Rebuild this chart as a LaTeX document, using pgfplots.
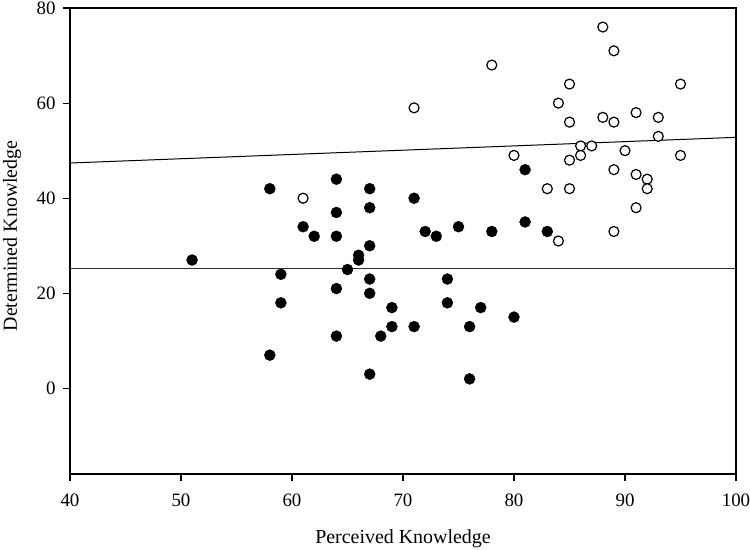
\documentclass[border=0pt]{standalone}
\usepackage{pgfplots}
\pgfplotsset{compat=1.18}
\usepackage{fontspec}
\setmainfont{Liberation Serif}

\pgfplotstableread{
x y
51 27
58 42
58 7
59 24
59 18
61 34
62 32
64 44
64 37
64 32
64 21
64 11
65 25
66 28
66 27
67 42
67 38
67 30
67 23
67 20
67 3
68 11
69 17
69 13
71 40
71 13
72 33
73 32
74 23
74 18
75 34
76 13
76 2
77 17
78 33
80 15
81 46
81 35
83 33
}\filled

\pgfplotstableread{
x y
61 40
71 59
78 68
80 49
83 42
84 31
84 60
85 64
85 56
85 48
85 42
86 51
86 49
87 51
88 76
88 57
89 71
89 56
89 46
89 33
90 50
91 58
91 45
91 38
92 44
92 42
93 57
93 53
95 64
95 49
}\opendata

\begin{document}
\begin{tikzpicture}
\begin{axis}[
  at={(0,0)}, anchor=south west,
  scale only axis, width=666bp, height=466bp,
  xmin=40, xmax=100, ymin=-18, ymax=80,
  xtick={40,50,...,100}, ytick={0,20,...,80},
  tick align=outside, major tick length=7bp,
  tick pos=left,
  axis line style={line width=1.2bp},
  tick style={line width=1.2bp, black},
  /pgf/number format/assume math mode=true,
  ticklabel style={font=\fontsize{19}{22}\selectfont},
  xticklabel style={yshift=-9bp},
  yticklabel style={xshift=-4bp},
  label style={font=\fontsize{20}{24}\selectfont},
  xlabel={Perceived Knowledge},
  ylabel={Determined Knowledge},
  xlabel style={at={(axis description cs:0.5,-0.1395)}, anchor=center},
  ylabel style={at={(axis description cs:-0.0870,0.511)}, anchor=center},
  clip=false,
]
\addplot[black, line width=1bp, no marks] coordinates {(40,47.4) (100,52.8)};
\addplot[black!80, line width=1.5bp, no marks] coordinates {(40,25.2) (100,25.2)};
\addplot[only marks, mark=*, mark size=5.5bp, mark options={fill=black, draw=black}] table[x=x,y=y] {\filled};
\addplot[only marks, mark=*, mark size=5bp, mark options={fill=white, draw=black, line width=1.2bp}] table[x=x,y=y] {\opendata};
\end{axis}
\pgfresetboundingbox
\useasboundingbox (-70bp,-76bp) rectangle (680bp,474bp);
\end{tikzpicture}
\end{document}
